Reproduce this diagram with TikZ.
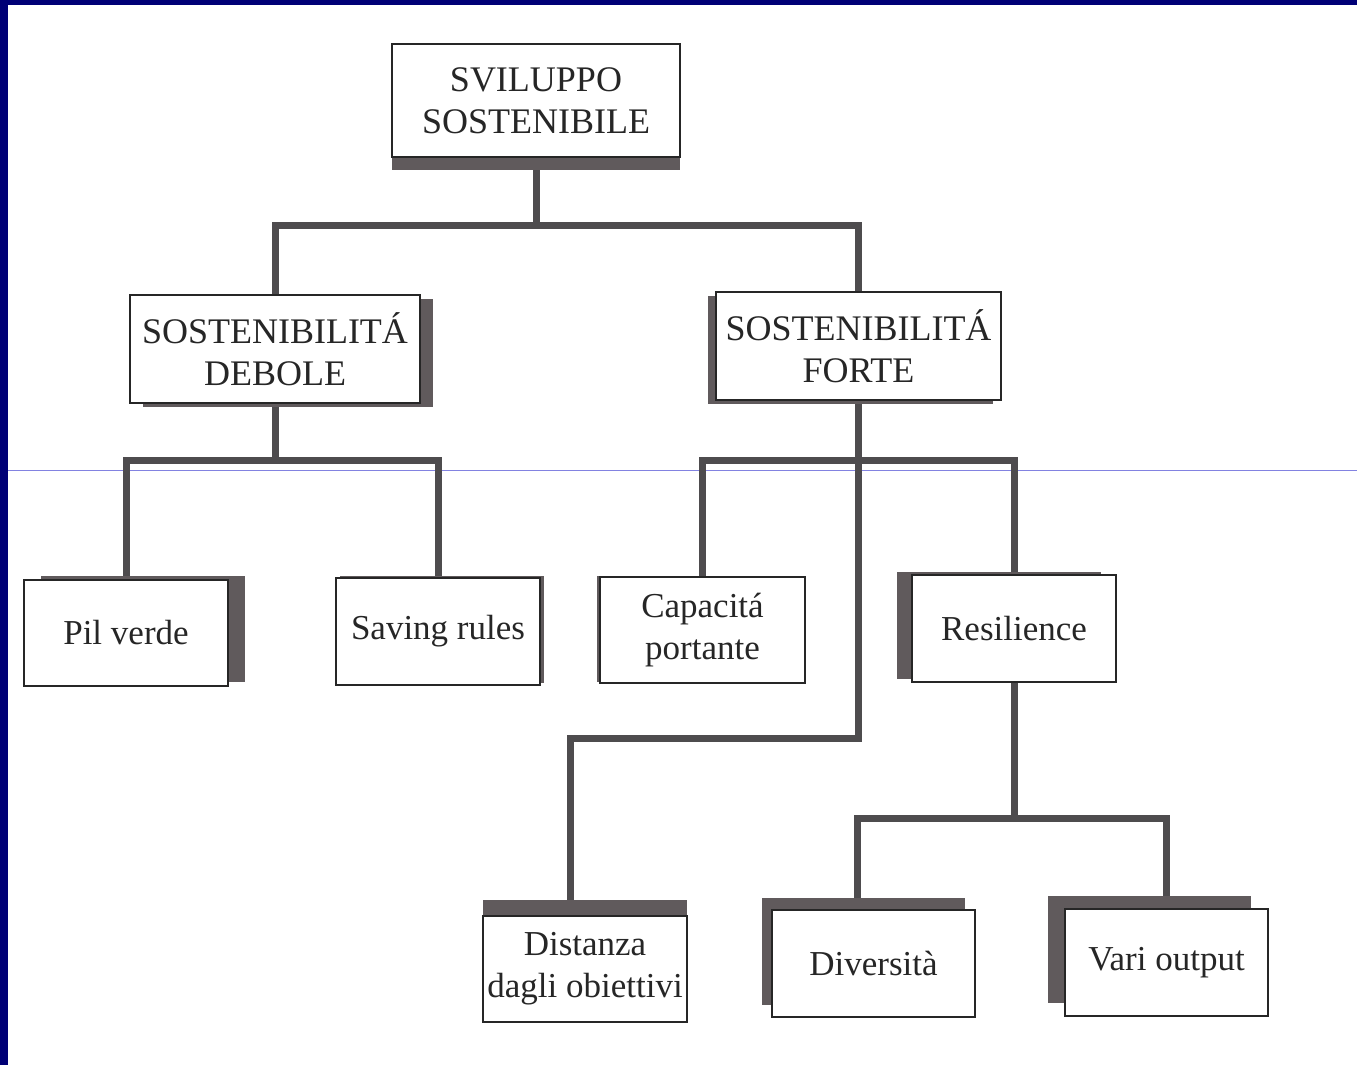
\documentclass[tikz,border=0pt]{standalone}
\usepackage{fontspec}
\setmainfont{Liberation Serif}
\usetikzlibrary{shadows}
\definecolor{frameblue}{RGB}{0,0,118}
\definecolor{guideblue}{RGB}{130,130,225}
\definecolor{shade}{RGB}{96,90,92}
\definecolor{wirecol}{RGB}{78,76,78}
\pgfdeclarelayer{paper}
\pgfdeclarelayer{wires}
\pgfsetlayers{paper,wires,main}
\begin{document}
\begin{tikzpicture}[x=1pt,y=-1pt,
  box/.style={draw=black!85, line width=1.3pt, fill=white, align=center,
    inner sep=0pt, text=black!85},
  upper/.style={box, font=\fontsize{36}{42}\selectfont},
  lower/.style={box, font=\fontsize{35}{42}\selectfont},
  sh/.style 2 args={general shadow={fill=shade, shadow xshift=#1pt, shadow yshift=#2pt}},
  wire/.style={draw=wirecol, line width=7pt}
]
\useasboundingbox (0,0) rectangle (1357,1065);

% page, frame and guide line
\begin{pgfonlayer}{paper}
  \fill[white] (0,0) rectangle (1357,1065);
  \fill[frameblue] (0,0) rectangle (1357,5);
  \fill[frameblue] (0,0) rectangle (8,1065);
  \draw[guideblue, line width=1.2pt] (8,470.5) -- (1357,470.5);
\end{pgfonlayer}

% boxes
\node[upper, sh={0}{-13}, minimum width=288pt, minimum height=113pt] (root) at (536,100.5) {SVILUPPO\\SOSTENIBILE};
\node[upper, sh={13}{-4}, minimum width=290pt, minimum height=108pt] (deb) at (275,349) {SOSTENIBILIT\'A\\DEBOLE};
\node[upper, sh={-8}{-4}, minimum width=285pt, minimum height=108pt] (forte) at (858.5,346) {SOSTENIBILIT\'A\\FORTE};

\node[lower, sh={17}{4}, minimum width=204pt, minimum height=106pt] (pil) at (126,633) {Pil verde};
\node[lower, sh={4}{2}, minimum width=204pt, minimum height=107pt] (saving) at (438,631.5) {Saving rules};
\node[lower, sh={-3}{1}, minimum width=205pt, minimum height=106pt] (cap) at (702.5,630) {Capacit\'a\\portante};
\node[lower, sh={-15}{3}, minimum width=204pt, minimum height=107pt] (res) at (1014,628.5) {Resilience};

\node[lower, sh={0}{16}, minimum width=204pt, minimum height=106pt] (dist) at (585,969) {Distanza\\dagli obiettivi};
\node[lower, sh={-10}{12}, minimum width=203pt, minimum height=107pt] (div) at (873.5,963.5) {Diversit\`a};
\node[lower, sh={-17}{13}, minimum width=203pt, minimum height=107pt] (vari) at (1166.5,962.5) {Vari output};

% connectors
\begin{pgfonlayer}{wires}
  \coordinate (j1) at (536,225);
  \coordinate (j2) at (275,460);
  \coordinate (j3) at (858.5,460);
  \coordinate (j4) at (858.5,738);
  \coordinate (j5) at (1014,818);
  \coordinate (distin) at ([xshift=-15pt]dist.north);
  \coordinate (divin) at ([xshift=-16pt]div.north);
  \draw[wire] (root.south) -- (j1) -| (deb.north);
  \draw[wire] (j1) -| (forte.north);
  \draw[wire] (deb.south) -- (j2) -| (pil.north);
  \draw[wire] (j2) -| (saving.north);
  \draw[wire] (forte.south) -- (j3) -| (cap.north);
  \draw[wire] (j3) -| (res.north);
  \draw[wire] (j3) -- (j4) -| (distin);
  \draw[wire] (res.south) -- (j5) -| (divin);
  \draw[wire] (j5) -| (vari.north);
\end{pgfonlayer}
\end{tikzpicture}
\end{document}
